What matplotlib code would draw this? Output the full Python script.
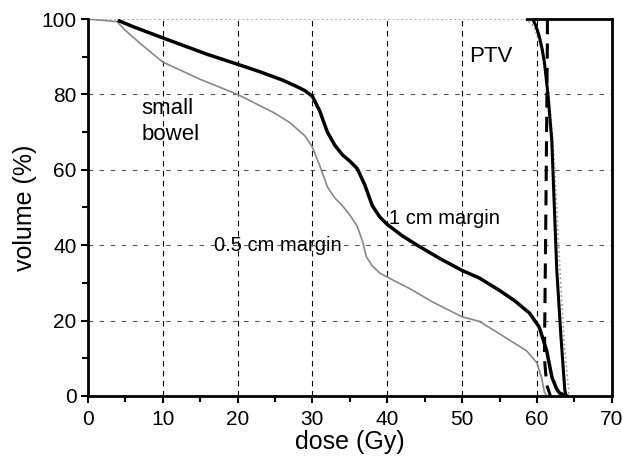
import numpy as np
import matplotlib
matplotlib.use('Agg')
import matplotlib.pyplot as plt
from matplotlib.ticker import MultipleLocator

plt.rcParams['font.family'] = ['Liberation Sans', 'DejaVu Sans']

# small bowel DVH, 1 cm margin plan (thick black)
bowel_1cm_dose = [4.2, 6, 8, 10, 13, 16, 20, 23, 26, 28, 29, 30, 31, 32, 33, 34, 35, 36,
                  37, 38, 39, 40, 42, 44, 47, 50, 52.3, 55, 57, 59, 60.3, 61.3, 62, 62.6, 63, 64]
bowel_1cm_vol = [99.5, 98, 96.5, 95, 92.8, 90.6, 88, 86, 83.8, 82, 81, 79.5, 75.5, 70, 66.5,
                 64, 62.3, 60.3, 56, 50.5, 47.5, 45.5, 42.5, 40, 36.5, 33.3, 31.3, 28, 25.3,
                 22, 18.3, 12, 5, 2, 0.8, 0]

# small bowel DVH, 0.5 cm margin plan (thin grey)
bowel_05cm_dose = [0, 3.9, 5, 7, 10, 15, 20, 25, 27, 29, 30, 31, 32, 33, 34, 35, 36, 36.7,
                   37.2, 38, 39, 41, 43, 46, 50, 52.3, 55, 57, 58.6, 60, 60.6, 61, 61.3]
bowel_05cm_vol = [100, 99.3, 97, 93.5, 88.6, 84, 80, 75, 72.5, 69, 66, 61, 55.5, 52.5, 50.5,
                  48, 45, 41, 37, 34.5, 32.6, 30.5, 28.5, 25, 21, 19.8, 16.5, 14, 12, 8.8,
                  5, 1, 0]

# PTV DVH, 1 cm margin (thick solid)
ptv_1cm_dose = [59.4, 59.8, 60.3, 60.7, 61.0, 61.25, 61.45, 61.98, 62.65, 63.2, 63.72, 63.9]
ptv_1cm_vol = [100, 98.5, 95.5, 92, 88.5, 84, 80.4, 67.9, 33.4, 16, 1.6, 0]

# PTV DVH, 0.5 cm margin (dashed)
ptv_05cm_dose = [61.4, 61.4, 61.2, 61.0, 61.3, 61.8]
ptv_05cm_vol = [100, 95, 50, 10, 3, 0]

# PTV DVH, grey dotted
ptv_grey_dose = [0, 58.5, 59.6, 60.6, 61.6, 62.2, 62.9, 63.6, 64.3]
ptv_grey_vol = [100, 100, 98, 92, 80, 66, 40, 15, 0]

x_ticks = [0, 10, 20, 30, 40, 50, 60, 70]
y_ticks = [0, 20, 40, 60, 80, 100]

fig = plt.figure(figsize=(6.23, 4.58), dpi=100)
ax = fig.add_axes([0.141, 0.1354, 0.841, 0.8231])

for x in x_ticks[1:-1]:
    ax.axvline(x, color='black', lw=0.8, ls=(0, (5, 4)), zorder=1)
for y in y_ticks[1:-1]:
    ax.axhline(y, color='#555555', lw=0.8, ls=(0, (4, 6)), zorder=1)

ax.plot(ptv_grey_dose, ptv_grey_vol, color='#999999', lw=1.2, ls=':', zorder=2)
ax.plot(bowel_05cm_dose, bowel_05cm_vol, color='#888888', lw=1.2, zorder=3)
ax.plot(bowel_1cm_dose, bowel_1cm_vol, color='black', lw=2.5, zorder=4)
ax.plot(ptv_1cm_dose, ptv_1cm_vol, color='black', lw=2.2, zorder=4)
ax.plot(ptv_05cm_dose, ptv_05cm_vol, color='black', lw=2.2, ls=(0, (5, 3)), zorder=4)

ax.set_xlim(0, 70)
ax.set_ylim(0, 100)
ax.set_xticks(x_ticks)
ax.set_yticks(y_ticks)
ax.xaxis.set_minor_locator(MultipleLocator(5))
ax.yaxis.set_minor_locator(MultipleLocator(10))
ax.tick_params(which='major', direction='out', length=5, width=1.5, labelsize=15, pad=3)
ax.tick_params(axis='x', which='major', pad=5)
ax.tick_params(which='minor', direction='out', length=4, width=1.5)

ax.spines['top'].set_bounds(58.7, 70)
for s in ['left', 'right', 'bottom', 'top']:
    ax.spines[s].set_linewidth(2)
    ax.spines[s].set_zorder(5)

ax.set_xlabel('dose (Gy)', fontsize=18, labelpad=1)
ax.set_ylabel('volume (%)', fontsize=18, labelpad=3)

ax.text(7.2, 68, 'small\nbowel', fontsize=16, linespacing=1.3)
ax.text(51.0, 88.5, 'PTV', fontsize=16)
ax.text(40.2, 45.5, '1 cm margin', fontsize=14.5)
ax.text(16.8, 38.5, '0.5 cm margin', fontsize=14.5)

fig.savefig('out.png', dpi=100)
